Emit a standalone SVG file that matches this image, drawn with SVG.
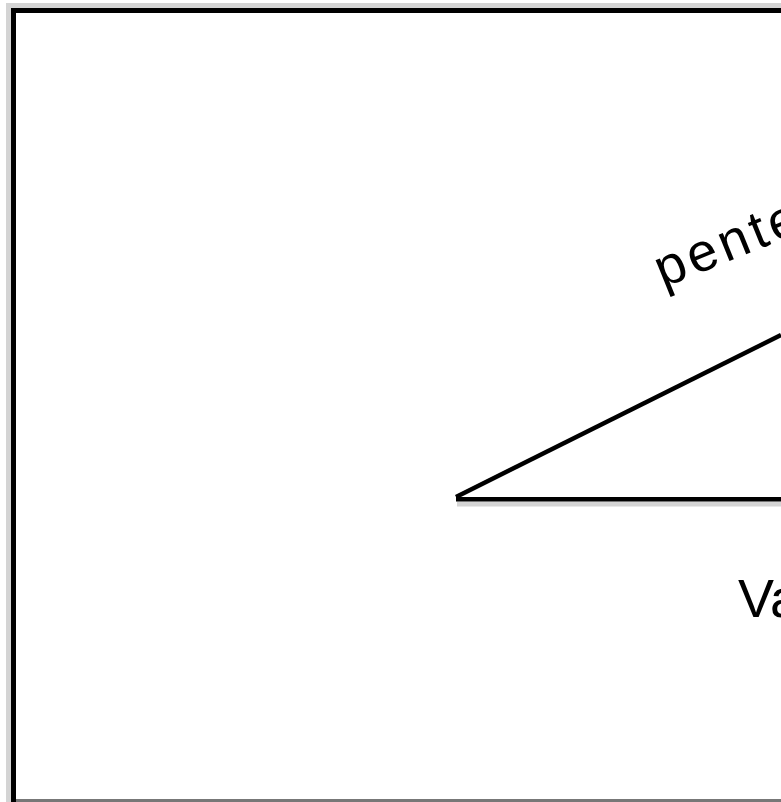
<svg xmlns="http://www.w3.org/2000/svg" width="781" height="802" viewBox="0 0 781 802">
<style>
.lbl{font-family:"Liberation Sans",Arial,sans-serif;font-size:54px;fill:#000}
.ln{stroke:#000;stroke-width:4.5;fill:none}
</style>
<rect width="781" height="802" fill="#fff"/>
<g id="frame">
<rect x="6" y="3" width="775" height="5" fill="#d4d4d4"/>
<rect x="6" y="3" width="5" height="799" fill="#d4d4d4"/>
<rect x="11" y="8" width="770" height="5" fill="#000"/>
<rect x="11" y="8" width="5" height="794" fill="#000"/>
<rect x="16" y="799" width="765" height="3" fill="#777"/>
</g>
<g id="connectors">
<line x1="457" y1="504" x2="781" y2="504" stroke="#d4d4d4" stroke-width="5"/>
<line class="ln" x1="456" y1="499.2" x2="781" y2="499.2"/>
<line class="ln" x1="456" y1="497" x2="781" y2="335"/>
</g>
<g id="label-pente">
<text class="lbl" font-size="52" letter-spacing="4" transform="translate(663,288) rotate(-22)">pente</text>
</g>
<g id="label-va">
<text class="lbl" font-size="56" x="738" y="617">Va</text>
</g>
</svg>
